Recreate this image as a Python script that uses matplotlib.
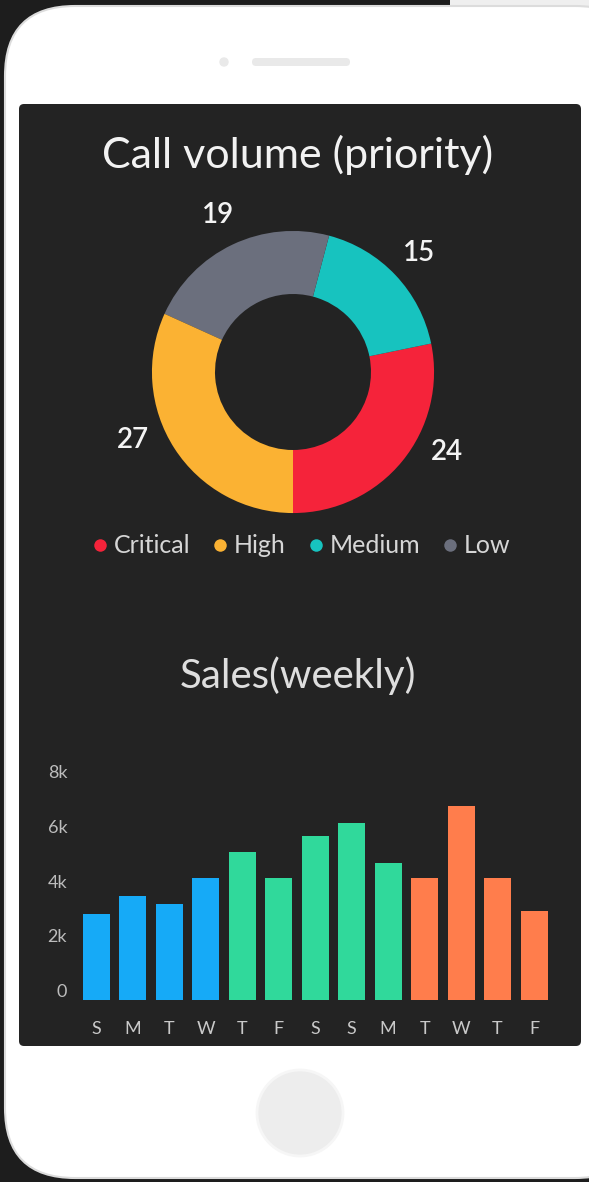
import numpy as np
import matplotlib.pyplot as plt
from matplotlib.patches import FancyBboxPatch, Circle, Rectangle
from matplotlib.lines import Line2D

plt.rcParams['font.family'] = ['Lato', 'DejaVu Sans']

# call volume by priority
priorities = ['Critical', 'High', 'Medium', 'Low']
calls = [24, 27, 15, 19]
pie_order = [0, 2, 3, 1]   # counterclockwise from the bottom
prio_colors = ['#f5233a', '#fbb233', '#17c3bf', '#6b6f7d']

# weekly sales
days = ['S', 'M', 'T', 'W', 'T', 'F', 'S', 'S', 'M', 'T', 'W', 'T', 'F']
sales = [3150, 3800, 3500, 4450, 5400, 4450, 6000, 6450, 5000, 4450, 7100, 4450, 3250]
bar_group = [0, 0, 0, 0, 1, 1, 1, 1, 1, 2, 2, 2, 2]
group_colors = ['#16aaf7', '#30d99b', '#ff7d4c']
yticks = [0, 2000, 4000, 6000, 8000]
ytick_labels = ['0', '2k', '4k', '6k', '8k']

W, H = 589, 1182
fig = plt.figure(figsize=(W / 100, H / 100), dpi=100, facecolor='#1d1d1d')

# phone mockup drawn in pixel units
bg = fig.add_axes([0, 0, 1, 1])
bg.set_xlim(0, W)
bg.set_ylim(H, 0)
bg.axis('off')
bg.add_patch(Rectangle((450, 0), 140, 12, color='#efefef', lw=0))
bg.add_patch(FancyBboxPatch((5, 6), 640, 1172, boxstyle='round,pad=0,rounding_size=70',
                            fc='white', ec='#dcdcdc', lw=1.5))
bg.add_patch(FancyBboxPatch((19, 104), 562, 942, boxstyle='round,pad=0,rounding_size=5',
                            fc='#232323', ec='none'))
bg.add_patch(Circle((224, 62), 4, color='#e9e9e9'))
bg.add_patch(FancyBboxPatch((252, 58), 98, 8, boxstyle='round,pad=0,rounding_size=4',
                            fc='#e9e9e9', ec='none'))
bg.add_patch(Circle((300, 1113), 43, fc='#ededed', ec='#f6f6f6', lw=2))

fig.text(298 / W, 1 - 155 / H, 'Call volume (priority)', color='#f2f2f2',
         fontsize=31, ha='center', va='center')
fig.text(298 / W, 1 - 676 / H, 'Sales(weekly)', color='#dedede',
         fontsize=29, ha='center', va='center')

# donut
ax = fig.add_axes([93 / W, 1 - 572 / H, 400 / W, 400 / H])
ax.set_facecolor('none')
vals = [calls[i] for i in pie_order]
cols = [prio_colors[i] for i in pie_order]
wedges, _ = ax.pie(vals, colors=cols, startangle=-90, counterclock=True, radius=1,
                   wedgeprops=dict(width=0.447, linewidth=0))
for w, v in zip(wedges, vals):
    mid = (w.theta1 + w.theta2) / 2
    # labels below the equator sit closer to the horizontal
    if np.sin(np.deg2rad(mid)) < 0:
        side = 0 if np.cos(np.deg2rad(mid)) > 0 else 180
        mid = side + 0.7 * ((mid - side + 180) % 360 - 180)
    ang = np.deg2rad(mid)
    ax.text(1.23 * np.cos(ang), 1.23 * np.sin(ang), str(v), color='#f4f4f4',
            fontsize=20, fontweight='semibold', ha='center', va='center')
ax.set_xlim(-1.418, 1.418)
ax.set_ylim(-1.418, 1.418)
ax.axis('off')

handles = [Line2D([], [], marker='o', ls='none', markersize=9, color=c,
                  markeredgewidth=0) for c in prio_colors]
fig.legend(handles, priorities, loc='center', bbox_to_anchor=(299 / W, 1 - 546 / H),
           ncol=4, frameon=False, fontsize=18, labelcolor='#d6d6d6',
           handletextpad=0.05, columnspacing=0.7, handlelength=1.0)

# bars
bx = fig.add_axes([78.25 / W, 1 - 1000 / H, 474 / W, 219 / H])
bx.set_facecolor('none')
x = np.arange(len(days))
bx.bar(x, sales, width=0.74, color=[group_colors[g] for g in bar_group])
bx.set_xlim(-0.5, len(days) - 0.5)
bx.set_ylim(0, 8000)
bx.set_xticks(x)
bx.set_xticklabels(days)
bx.set_yticks(yticks)
bx.set_yticklabels(ytick_labels)
bx.tick_params(axis='x', length=0, pad=15, labelsize=13, labelcolor='#c9c9c9')
bx.tick_params(axis='y', length=0, pad=8, labelsize=13, labelcolor='#bcbcbc')
for lab in bx.get_yticklabels():
    lab.set_va('bottom')
for s in bx.spines.values():
    s.set_visible(False)

fig.savefig('out.png', dpi=100, facecolor=fig.get_facecolor())
